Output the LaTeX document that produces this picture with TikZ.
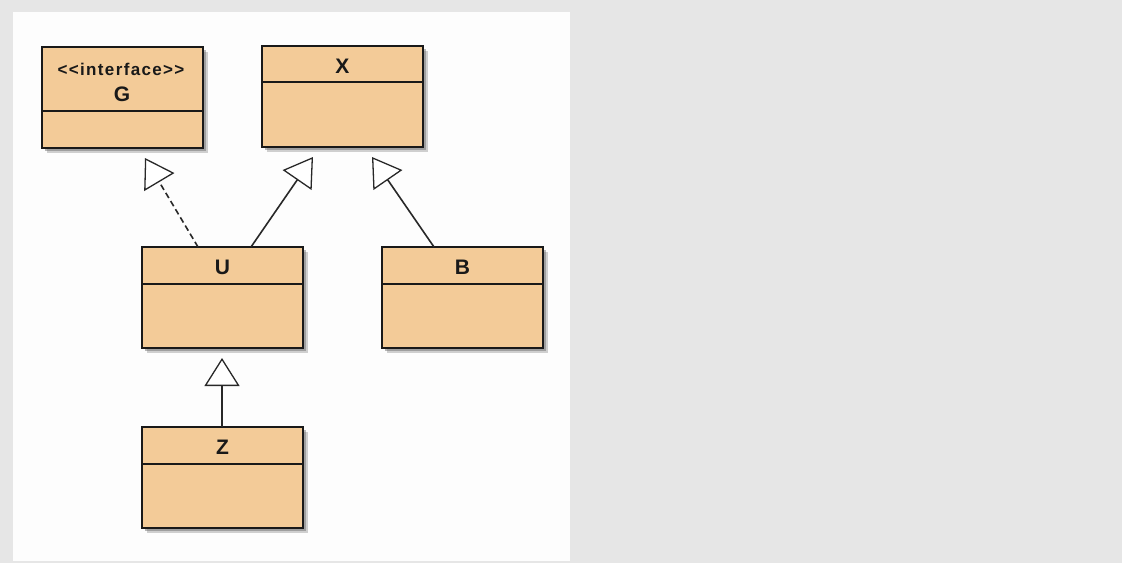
\documentclass[tikz,border=0pt]{standalone}
\usepackage{fontspec}
\setmainfont{Liberation Sans}
\newfontfamily\stereofont[LetterSpace=8]{Liberation Sans}
\usetikzlibrary{arrows.meta}
\definecolor{bg}{RGB}{230,230,230}
\definecolor{panel}{RGB}{253,253,253}
\definecolor{classfill}{RGB}{243,203,152}
\definecolor{edge}{RGB}{25,25,25}
\definecolor{conn}{RGB}{40,40,40}
\tikzset{
  classbox/.style={draw=edge, line width=1.7pt, fill=classfill, minimum width=161pt,
    minimum height=101pt, anchor=north west, inner sep=0pt, outer sep=0pt,
    preaction={draw=none, fill=black!45, opacity=0.4, transform canvas={shift={(4.5pt,-4.5pt)}}},
    preaction={draw=none, fill=black!60, opacity=0.45, transform canvas={shift={(3pt,-3pt)}}}},
  divider/.style={draw=edge, line width=1.5pt},
  classname/.style={font=\fontsize{21}{24}\selectfont\bfseries, text=black!90, inner sep=0pt},
  stereo/.style={font=\fontsize{17}{20}\selectfont\stereofont\bfseries, text=black!90, inner sep=0pt},
  inherit/.style={draw=conn, line width=1.6pt, -{Triangle[length=28pt,width=35pt,fill=white,line width=1.3pt]}},
  realize/.style={inherit, dash pattern=on 6pt off 3.5pt}
}
\begin{document}
\begin{tikzpicture}[x=1pt,y=-1pt]
\fill[bg] (0,0) rectangle (1122,563);
\fill[panel] (13,12) rectangle (570,561);
\useasboundingbox (0,0) rectangle (1122,563);
% classes
\node[classbox] (G) at (42,47) {};
\draw[divider] ([yshift=-64pt]G.north west) -- ([yshift=-64pt]G.north east);
\node[stereo] (Gs) at (121,69) {\textless\textless interface\textgreater\textgreater};
\node[classname] (Gt) at (122,94) {G};

\node[classbox] (X) at (262,46) {};
\draw[divider] ([yshift=-36pt]X.north west) -- ([yshift=-36pt]X.north east);
\node[classname] (Xt) at (342.5,66) {X};

\node[classbox] (U) at (142,247) {};
\draw[divider] ([yshift=-37pt]U.north west) -- ([yshift=-37pt]U.north east);
\node[classname] (Ut) at (222.5,267) {U};

\node[classbox] (B) at (382,247) {};
\draw[divider] ([yshift=-37pt]B.north west) -- ([yshift=-37pt]B.north east);
\node[classname] (Bt) at (462.5,267) {B};

\node[classbox] (Z) at (142,427) {};
\draw[divider] ([yshift=-37pt]Z.north west) -- ([yshift=-37pt]Z.north east);
\node[classname] (Zt) at (222.5,447) {Z};

% connectors
\draw[realize] ([xshift=56pt]U.north west) -- ([xshift=103pt,yshift=-10pt]G.south west);
\draw[inherit] ([xshift=109pt]U.north west) -- ([xshift=51pt,yshift=-10pt]X.south west);
\draw[inherit] ([xshift=52pt]B.north west) -- ([xshift=110pt,yshift=-10pt]X.south west);
\draw[inherit] ([xshift=80pt]Z.north west) -- ([xshift=80pt,yshift=-10pt]U.south west);
\end{tikzpicture}
\end{document}
